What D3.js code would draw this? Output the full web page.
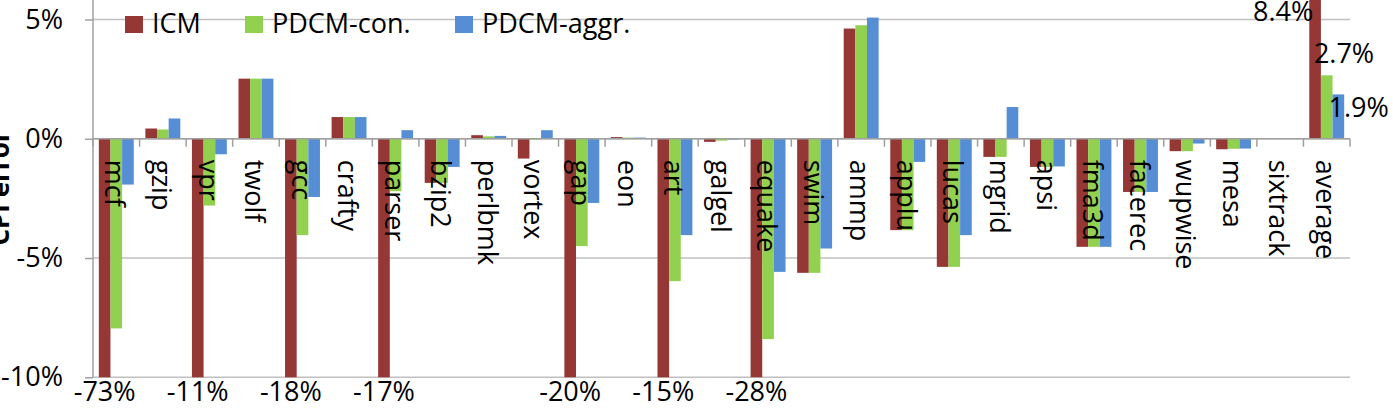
<!DOCTYPE html>
<html>
<head>
<meta charset="utf-8">
<script src="https://cdn.jsdelivr.net/npm/d3@7"></script>
<style>
  body { margin: 0; background: #fff; }
  text { font-family: "Open Sans", sans-serif; fill: #000; }
</style>
</head>
<body>
<div id="chart"></div>
<script>
// benchmarks on the x axis
var categories = ["mcf", "gzip", "vpr", "twolf", "gcc", "crafty", "parser", "bzip2", "perlbmk", "vortex",
    "gap", "eon", "art", "galgel", "equake", "swim", "ammp", "applu", "lucas", "mgrid",
    "apsi", "fma3d", "facerec", "wupwise", "mesa", "sixtrack", "average"];

var seriesNames = ["ICM", "PDCM-con.", "PDCM-aggr."];

// CPI error in percent
var icm = [-73, 0.43, -11, 2.52, -18, 0.91, -17, -1.85, 0.15, -0.83,
    -20, 0.07, -15, -0.13, -28, -5.62, 4.62, -3.83, -5.37, -0.76,
    -1.18, -4.53, -2.23, -0.52, -0.44, 0.03, 8.4];
var pdcmCon = [-7.95, 0.39, -2.8, 2.52, -4.04, 0.91, -2.2, -1.85, 0.1, -0.03,
    -4.5, 0.05, -5.97, -0.08, -8.4, -5.62, 4.76, -3.83, -5.37, -0.76,
    -1.18, -4.53, -2.23, -0.52, -0.42, 0.02, 2.66];
var pdcmAggr = [-1.92, 0.85, -0.65, 2.52, -2.44, 0.91, 0.36, -1.18, 0.12, 0.36,
    -2.69, 0.05, -4.04, -0.03, -5.58, -4.6, 5.08, -0.97, -4.04, 1.33,
    -1.16, -4.53, -2.23, -0.2, -0.41, 0.02, 1.86];

var yTicks = [5, 0, -5, -10];

var width = 1393, height = 411;
var left = 93, right = 1350, yTop = 19.5, yBottom = 377.3;
var colors = ["#953735", "#92d050", "#558ed5"];
var allSeries = [icm, pdcmCon, pdcmAggr];

var svg = d3.select("#chart")
    .append("svg")
    .attr("width", width)
    .attr("height", height);

var x = d3.scaleBand()
    .domain(categories)
    .range([left, right])
    .paddingInner(0)
    .paddingOuter(0);

var xs = d3.scaleBand()
    .domain(seriesNames)
    .range([0, x.bandwidth()])
    .paddingInner(0)
    .paddingOuter(0.5);

var y = d3.scaleLinear()
    .domain([-10, 5])
    .range([yBottom, yTop]);

svg.append("defs").append("clipPath")
    .attr("id", "plotclip")
    .append("rect")
    .attr("x", left)
    .attr("y", 0)
    .attr("width", right - left)
    .attr("height", yBottom);

// horizontal gridlines
svg.append("g")
    .selectAll("line")
    .data(yTicks)
    .join("line")
    .attr("x1", left)
    .attr("x2", right)
    .attr("y1", d => y(d))
    .attr("y2", d => y(d))
    .attr("stroke", "#c0c0c0")
    .attr("stroke-width", 1.5);

// bars
var rows = [];
categories.forEach(function (c, i) {
    seriesNames.forEach(function (s, j) {
        rows.push({ cat: c, series: s, value: allSeries[j][i], color: colors[j] });
    });
});

svg.append("g")
    .attr("clip-path", "url(#plotclip)")
    .selectAll("rect")
    .data(rows)
    .join("rect")
    .attr("x", d => x(d.cat) + xs(d.series))
    .attr("width", xs.bandwidth())
    .attr("y", d => d.value >= 0 ? y(d.value) : y(0))
    .attr("height", d => Math.abs(y(d.value) - y(0)))
    .attr("fill", d => d.color);

// y axis
var yAxis = d3.axisLeft(y)
    .tickValues(yTicks)
    .tickSize(8)
    .tickPadding(22)
    .tickFormat(d => d + "%");

var yg = svg.append("g")
    .attr("transform", `translate(${left},0)`)
    .call(yAxis);
yg.select(".domain").remove();
yg.selectAll(".tick line").attr("stroke", "#a0a0a0").attr("stroke-width", 1.5);
yg.selectAll(".tick text")
    .style("font-family", "Open Sans")
    .style("font-size", "27px")
    .attr("fill", "#000");

svg.append("line")
    .attr("x1", left).attr("x2", left)
    .attr("y1", 0).attr("y2", yBottom)
    .attr("stroke", "#a0a0a0")
    .attr("stroke-width", 1.5);

// category axis at zero
svg.append("line")
    .attr("x1", left).attr("x2", right)
    .attr("y1", y(0)).attr("y2", y(0))
    .attr("stroke", "#a0a0a0")
    .attr("stroke-width", 1.5);

svg.append("g")
    .selectAll("line")
    .data(categories.concat(["end"]))
    .join("line")
    .attr("x1", (d, i) => left + i * x.step())
    .attr("x2", (d, i) => left + i * x.step())
    .attr("y1", y(0))
    .attr("y2", y(0) + 8)
    .attr("stroke", "#a0a0a0")
    .attr("stroke-width", 1.5);

svg.append("g")
    .selectAll("text")
    .data(categories)
    .join("text")
    .attr("transform", d => `translate(${x(d) + x.bandwidth() / 2},${y(0) + 21}) rotate(90)`)
    .attr("dy", "0.4em")
    .style("font-size", "27px")
    .text(d => d);

// labels for ICM values that run off the bottom
svg.append("g")
    .selectAll("text")
    .data(rows.filter(d => d.value < -10))
    .join("text")
    .attr("x", d => x(d.cat) + xs(d.series) + xs.bandwidth() / 2)
    .attr("y", 401)
    .attr("text-anchor", "middle")
    .style("font-size", "27px")
    .text(d => Math.round(d.value) + "%");

// labels on the average bars
var avg = rows.filter(d => d.cat === "average");
var labelPos = [
    { dx: 4, y: 21, anchor: "end" },
    { dx: -7, y: 63, anchor: "start" },
    { dx: -4, y: 117, anchor: "start" }
];
svg.append("g")
    .selectAll("text")
    .data(avg)
    .join("text")
    .attr("x", (d, i) => x(d.cat) + xs(d.series) + labelPos[i].dx)
    .attr("y", (d, i) => labelPos[i].y)
    .attr("text-anchor", (d, i) => labelPos[i].anchor)
    .style("font-size", "27px")
    .text(d => d.value.toFixed(1) + "%");

// y title, partly outside the picture
svg.append("text")
    .attr("transform", "translate(9,188) rotate(-90)")
    .attr("text-anchor", "middle")
    .style("font-size", "26px")
    .style("font-weight", "bold")
    .text("CPI error");

// legend
var legendX = [125, 245, 455];
var legend = svg.append("g")
    .selectAll("g")
    .data(seriesNames)
    .join("g")
    .attr("transform", (d, i) => `translate(${legendX[i]},16)`);

legend.append("rect")
    .attr("width", 18)
    .attr("height", 17)
    .attr("fill", (d, i) => colors[i]);

legend.append("text")
    .attr("x", 27)
    .attr("y", 17)
    .style("font-size", "27px")
    .text(d => d);
</script>
</body>
</html>
